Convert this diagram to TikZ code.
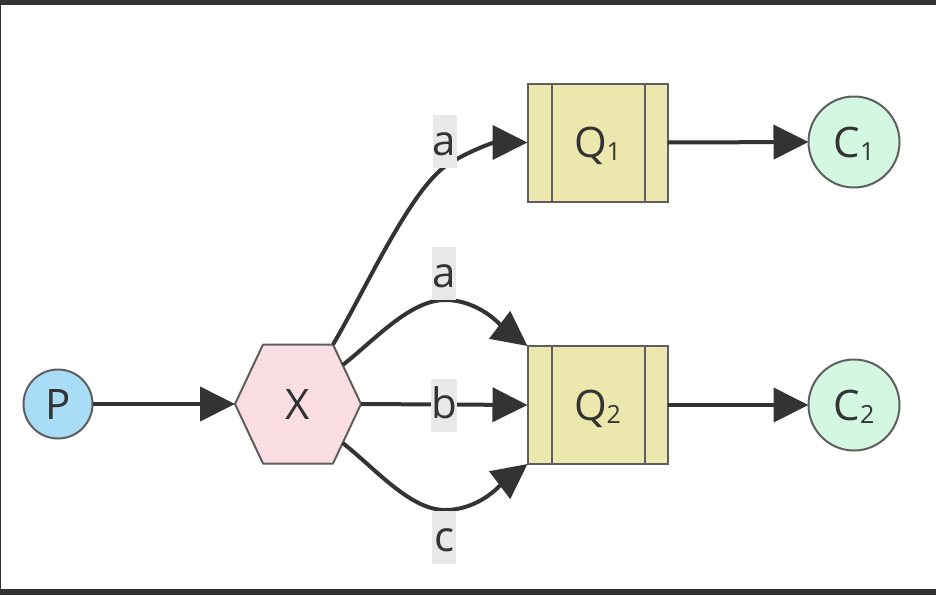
\documentclass[tikz,border=0pt]{standalone}
\usepackage{fontspec}
\setmainfont{Open Sans}
\usetikzlibrary{arrows.meta}
\definecolor{pfill}{RGB}{168,220,247}
\definecolor{xfill}{RGB}{251,222,228}
\definecolor{qfill}{RGB}{236,231,173}
\definecolor{cfill}{RGB}{211,247,224}
\definecolor{edgecol}{RGB}{51,51,51}
\definecolor{strokecol}{RGB}{95,95,95}
\definecolor{lblfill}{RGB}{232,232,232}
\definecolor{framecol}{RGB}{51,51,51}
\newcommand{\mainsize}{\fontsize{42}{50}\selectfont}
\newcommand{\subsz}[1]{\raisebox{-3pt}{\fontsize{25}{30}\selectfont #1}}
\begin{document}
\begin{tikzpicture}[x=1pt,y=-1pt,
  txt/.style={font=\mainsize, text=edgecol, text height=30pt, text depth=0pt, inner sep=0pt, outer sep=0pt},
  circnode/.style={txt, circle, draw=strokecol, line width=2pt},
  qbox/.style={txt, rectangle, draw=strokecol, line width=2pt, fill=qfill, minimum width=140pt, minimum height=118pt},
  conn/.style={draw=edgecol, line width=4pt, -{Triangle[length=35pt,width=34pt]}},
  lbl/.style={font=\mainsize, text=edgecol, fill=lblfill, inner sep=0pt, minimum width=24pt, text height=40pt, text depth=13pt},
  qline/.style={draw=strokecol, line width=2pt}
]
% page
\useasboundingbox (0,0) rectangle (936,595);
\fill[white] (0,0) rectangle (936,595);
\fill[framecol] (0,0) rectangle (936,4.5);
\fill[framecol] (0,589) rectangle (936,595);
\fill[framecol] (0,0) rectangle (1.3,595);

% hexagon X
\coordinate (Xc) at (298,404);
\filldraw[fill=xfill, draw=strokecol, line width=2pt, line join=round]
  ([shift={(-63,0)}]Xc) -- ([shift={(-35,-59.5)}]Xc) -- ([shift={(35,-59.5)}]Xc)
  -- ([shift={(63,0)}]Xc) -- ([shift={(35,59.5)}]Xc) -- ([shift={(-35,59.5)}]Xc) -- cycle;
\node[txt, minimum width=126pt, minimum height=119pt] (X) at (Xc) {X};
\coordinate (Xa1) at ([shift={(35,-59.5)}]Xc);
\coordinate (Xa2) at (342.7,365);
\coordinate (Xc3) at (342.7,443);

% nodes
\node[circnode, fill=pfill, minimum size=69pt] (P) at (58,404) {P};
\node[qbox] (Q1) at (597.5,142.5) {Q\subsz{1}};
\node[qbox] (Q2) at (597.5,405) {Q\subsz{2}};
\node[circnode, fill=cfill, minimum size=91pt] (C1) at (854,142) {C\subsz{1}};
\node[circnode, fill=cfill, minimum size=91pt] (C2) at (854,405) {C\subsz{2}};

\foreach \q in {Q1,Q2}{
  \draw[qline] ([xshift=24pt]\q.north west) -- ([xshift=24pt]\q.south west);
  \draw[qline] ([xshift=-23pt]\q.north east) -- ([xshift=-23pt]\q.south east);
}

% waypoints
\coordinate (m1) at (447,165);
\coordinate (m2) at (445,300);
\coordinate (m3) at (445,510);

% connectors
\draw[conn] (P.east) -- (X.west);
\draw[conn] (X.east) -- (Q2.west);
\draw[conn] (Xa1) .. controls +(32,-54) and +(-37,25) .. (m1)
  .. controls +(23,-15) and +(-33,0) .. (Q1.west);
\draw[conn] (Xa2) .. controls +(32,-25) and +(-35,0) .. (m2)
  .. controls +(35,0) and +(-25,-19) .. (Q2.north west);
\draw[conn] (Xc3) .. controls +(32,25) and +(-35,0) .. (m3)
  .. controls +(35,0) and +(-25,19) .. (Q2.south west);
\draw[conn] (Q1.east) -- (C1.west);
\draw[conn] (Q2.east) -- (C2.west);

% labels
\node[lbl] (la1) at (444.5,141.5) {a};
\node[lbl] (la2) at (444,273.5) {a};
\node[lbl] (lb) at (444,405) {b};
\node[lbl] (lc) at (444,537.5) {c};
\end{tikzpicture}
\end{document}
